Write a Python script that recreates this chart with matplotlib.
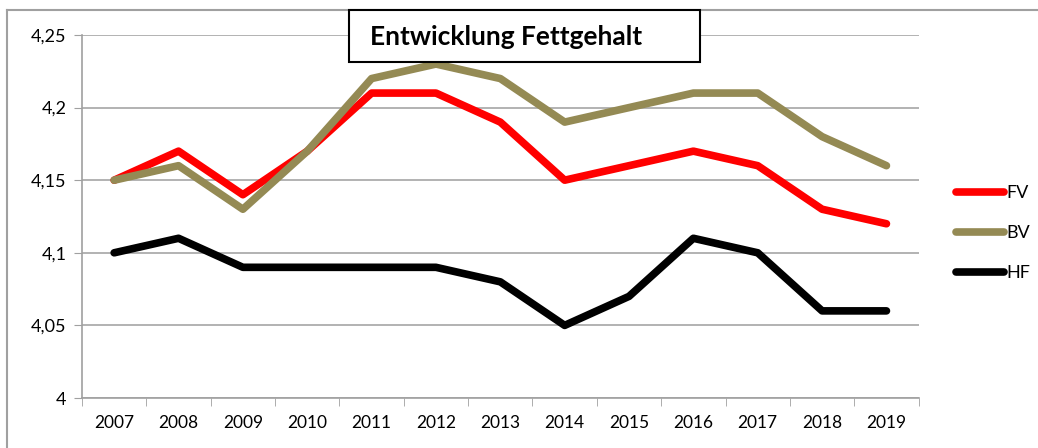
import numpy as np
import matplotlib.pyplot as plt
from matplotlib.lines import Line2D
from matplotlib.patches import Rectangle

plt.rcParams['font.family'] = ['Lato', 'DejaVu Sans']

years = ['2007', '2008', '2009', '2010', '2011', '2012', '2013',
         '2014', '2015', '2016', '2017', '2018', '2019']
fv = [4.15, 4.17, 4.14, 4.17, 4.21, 4.21, 4.19, 4.15, 4.16, 4.17, 4.16, 4.13, 4.12]
bv = [4.15, 4.16, 4.13, 4.17, 4.22, 4.23, 4.22, 4.19, 4.20, 4.21, 4.21, 4.18, 4.16]
hf = [4.10, 4.11, 4.09, 4.09, 4.09, 4.09, 4.08, 4.05, 4.07, 4.11, 4.10, 4.06, 4.06]
yticks = [4.0, 4.05, 4.1, 4.15, 4.2, 4.25]
ylabels = ['4', '4,05', '4,1', '4,15', '4,2', '4,25']

W, H = 1038, 448
fig = plt.figure(figsize=(W / 100, H / 100), dpi=100)
ax = fig.add_axes([0.079, 0.1116, 0.806, 0.8103])

x = np.arange(len(years))
lw = 5.5
ax.plot(x, fv, color='#FF0000', lw=lw, solid_capstyle='round', solid_joinstyle='round', label='FV', zorder=3)
ax.plot(x, bv, color='#948A54', lw=lw, solid_capstyle='round', solid_joinstyle='round', label='BV', zorder=4)
ax.plot(x, hf, color='#000000', lw=lw, solid_capstyle='round', solid_joinstyle='round', label='HF', zorder=3)

ax.set_xlim(-0.5, len(years) - 0.5)
ax.set_ylim(4.0, 4.25)
ax.set_yticks(yticks)
ax.set_yticklabels(ylabels, fontsize=13)
ax.set_xticks(x)
ax.set_xticklabels(years, fontsize=12.5)
ax.set_xticks(np.arange(-0.5, len(years)), minor=True)
ax.tick_params(axis='x', which='major', length=0, pad=12)
ax.tick_params(axis='x', which='minor', length=6, color='#A0A0A0', direction='out')
ax.tick_params(axis='y', length=6, color='#A0A0A0', direction='out', pad=5)
ax.grid(axis='y', color='#A6A6A6', lw=1.2)
ax.set_axisbelow(True)
for s in ['top', 'right']:
    ax.spines[s].set_visible(False)
for s in ['left', 'bottom']:
    ax.spines[s].set_color('#A0A0A0')
    ax.spines[s].set_linewidth(1.2)

handles = [Line2D([0], [0], color=c, lw=lw, solid_capstyle='round')
           for c in ['#FF0000', '#948A54', '#000000']]
fig.legend(handles, ['FV', 'BV', 'HF'], loc='center left', bbox_to_anchor=(0.905, 0.48),
           frameon=False, fontsize=13, handlelength=2.7, handletextpad=0.1, labelspacing=1.33)

# title box
fig.add_artist(Rectangle((349 / W, 1 - 62 / H), 351 / W, 52 / H, transform=fig.transFigure,
                         fc='white', ec='black', lw=1.5, zorder=9))
fig.text(370 / W, 1 - 37 / H, 'Entwicklung Fettgehalt', fontsize=19, fontweight='bold',
         ha='left', va='center', zorder=10)

# outer chart frame (top and left only visible)
fig.add_artist(Line2D([7 / W, 1.0], [1 - 10 / H, 1 - 10 / H], color='#A0A0A0', lw=1.5))
fig.add_artist(Line2D([7 / W, 7 / W], [0, 1 - 10 / H], color='#A0A0A0', lw=1.5))

fig.savefig('out.png', dpi=100)
